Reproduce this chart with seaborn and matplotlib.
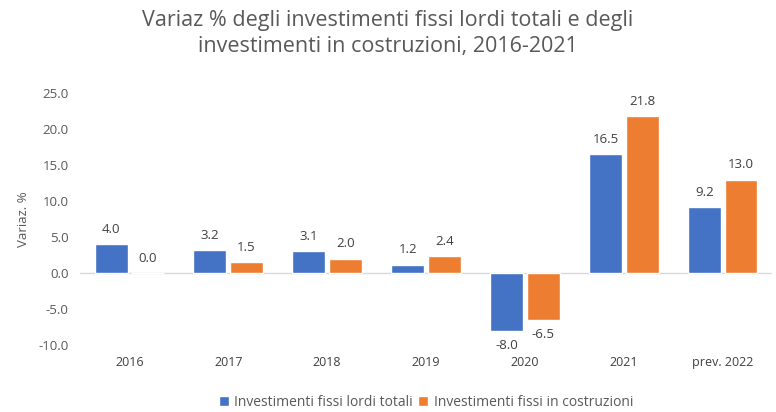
import matplotlib
matplotlib.use("Agg")
import matplotlib.pyplot as plt
import seaborn as sns
import pandas as pd

categories = ["2016", "2017", "2018", "2019", "2020", "2021", "prev. 2022"]
totali = [4.0, 3.2, 3.1, 1.2, -8.0, 16.5, 9.2]
costruzioni = [0.04, 1.5, 2.0, 2.4, -6.5, 21.8, 13.0]
series_names = ["Investimenti fissi lordi totali", "Investimenti fissi in costruzioni"]
yticks = [-10, -5, 0, 5, 10, 15, 20, 25]

df = pd.DataFrame({
    "anno": categories * 2,
    "valore": totali + costruzioni,
    "serie": [series_names[0]] * len(categories) + [series_names[1]] * len(categories),
})

sns.set_theme(style="white")
plt.rcParams['font.family'] = ['Open Sans', 'DejaVu Sans']

fig = plt.figure(figsize=(7.76, 4.12), dpi=100)
ax = fig.add_axes([0.103, 0.162, 0.892, 0.612])

palette = {series_names[0]: "#4472C4", series_names[1]: "#ED7D31"}
sns.barplot(data=df, x="anno", y="valore", hue="serie", palette=palette,
            width=0.74, gap=0.1, ax=ax, saturation=1, legend=True)

txtcol = "#404040"
for cont in ax.containers:
    labels = [f"{v:.1f}" for v in cont.datavalues]
    ax.bar_label(cont, labels=labels, padding=6, fontsize=9.5, color=txtcol)

ax.set_ylim(-10, 25)
ax.set_yticks(yticks)
ax.set_yticklabels([f"{t:.1f}" for t in yticks], fontsize=9.5, color="#595959")
ax.tick_params(axis="x", labelsize=9, colors="#404040", length=0, pad=8)
ax.tick_params(axis="y", length=0, pad=8)
ax.set_xlabel("")
ax.set_ylabel("Variaz. %", fontsize=9.5, color="#595959", labelpad=6)
ax.set_xlim(-0.5, len(categories) - 0.5)
for s in ax.spines.values():
    s.set_visible(False)
ax.axhline(0, color="#D9D9D9", lw=1, zorder=0)

fig.suptitle("Variaz % degli investimenti fissi lordi totali e degli\ninvestimenti in costruzioni, 2016-2021",
             y=0.975, fontsize=15.5, color="#595959", linespacing=1.3)

leg = ax.legend(loc="lower center", bbox_to_anchor=(0.5, -0.305), ncol=2, frameon=False,
                fontsize=10, handlelength=0.7, handleheight=0.7, handletextpad=0.4,
                columnspacing=0.4, labelcolor="#595959")

fig.savefig("out.png", dpi=100)
